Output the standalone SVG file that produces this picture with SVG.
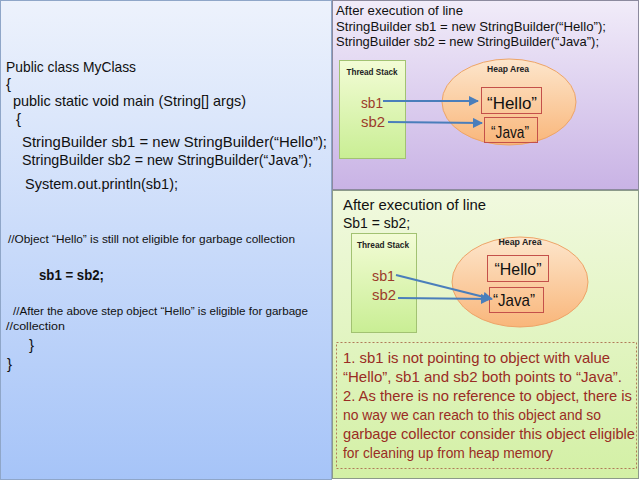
<svg xmlns="http://www.w3.org/2000/svg" width="640" height="480" viewBox="0 0 640 480">
<defs>
<linearGradient id="gBlue" x1="0" y1="0" x2="0" y2="1"><stop offset="0" stop-color="#edf2fc"/><stop offset="1" stop-color="#a6c4f8"/></linearGradient>
<linearGradient id="gPurple" x1="0" y1="0" x2="0" y2="1"><stop offset="0" stop-color="#f1ecf9"/><stop offset="1" stop-color="#c9b3e5"/></linearGradient>
<linearGradient id="gGreen" x1="0" y1="0" x2="0" y2="1"><stop offset="0" stop-color="#f1f9df"/><stop offset="1" stop-color="#d3f0a5"/></linearGradient>
<linearGradient id="gStack" x1="0" y1="0" x2="0" y2="1"><stop offset="0" stop-color="#f3fcd6"/><stop offset="1" stop-color="#c9ee94"/></linearGradient>
<linearGradient id="gHeap" x1="0" y1="0" x2="0" y2="1"><stop offset="0" stop-color="#fde6cc"/><stop offset="1" stop-color="#f9b67a"/></linearGradient>
<marker id="arr" viewBox="0 0 10 10" refX="9" refY="5" markerWidth="5" markerHeight="5" orient="auto" markerUnits="strokeWidth">
<path d="M0,0 L10,5 L0,10 z" fill="#4a7ebb"/>
</marker>
</defs>
<style>
text{font-family:"Liberation Sans",Arial,sans-serif;}
.code{font-size:15px;fill:#111;}
.cmt{font-size:11px;fill:#111;}
.hdr{font-size:13.5px;fill:#111;}
.hdr2{font-size:15px;fill:#111;}
.lbl{font-size:8.5px;font-weight:bold;fill:#222;text-anchor:middle;}
.var{font-size:15px;fill:#9c3b2a;}
.obj{font-size:17px;fill:#111;text-anchor:middle;}
.note{font-size:15px;fill:#9a2c24;}
.stack{fill:url(#gStack);stroke:#a2c272;stroke-width:1;}
.heap{fill:url(#gHeap);stroke:#eda468;stroke-width:1;}
.box{fill:none;stroke:#c4504a;stroke-width:1;}
.ar{stroke:#4a7ebb;stroke-width:2;fill:none;marker-end:url(#arr);}
</style>

<g id="code-panel">
<rect x="0.5" y="0.5" width="331" height="479" fill="url(#gBlue)" stroke="#8fa6c8"/>
<text class="code" x="6" y="72" textLength="130" lengthAdjust="spacingAndGlyphs">Public class MyClass</text>
<text class="code" x="6" y="89">{</text>
<text class="code" x="13" y="106" textLength="233" lengthAdjust="spacingAndGlyphs">public static void main (String[] args)</text>
<text class="code" x="16" y="124">{</text>
<text class="code" x="22" y="147" textLength="305" lengthAdjust="spacingAndGlyphs">StringBuilder sb1 = new StringBuilder(“Hello”);</text>
<text class="code" x="22" y="165" textLength="290" lengthAdjust="spacingAndGlyphs">StringBuilder sb2 = new StringBuilder(“Java”);</text>
<text class="code" x="25" y="189" textLength="153" lengthAdjust="spacingAndGlyphs">System.out.println(sb1);</text>
<text class="cmt" x="8" y="243" textLength="287" lengthAdjust="spacingAndGlyphs">//Object “Hello” is still not eligible for garbage collection</text>
<text class="code" x="39" y="280" font-weight="bold" font-size="15.5" textLength="65" lengthAdjust="spacingAndGlyphs">sb1 = sb2;</text>
<text class="cmt" x="13" y="315" textLength="295" lengthAdjust="spacingAndGlyphs">//After the above step object “Hello” is eligible for garbage</text>
<text class="cmt" x="6" y="330" textLength="59" lengthAdjust="spacingAndGlyphs">//collection</text>
<text class="code" x="29" y="350">}</text>
<text class="code" x="7" y="369">}</text>
</g>

<g id="panel-before">
<rect x="332.5" y="0.5" width="306" height="189" fill="url(#gPurple)" stroke="#8c8a9e"/>
<text class="hdr" x="336" y="15" textLength="127" lengthAdjust="spacingAndGlyphs">After execution of line</text>
<text class="hdr" x="336" y="31" textLength="270" lengthAdjust="spacingAndGlyphs">StringBuilder sb1 = new StringBuilder(“Hello”);</text>
<text class="hdr" x="336" y="46" textLength="263" lengthAdjust="spacingAndGlyphs">StringBuilder sb2 = new StringBuilder(“Java”);</text>
</g>
<g id="stack-before">
<rect class="stack" x="339.5" y="60.5" width="66" height="98"/>
<text class="lbl" x="372" y="75" textLength="51" lengthAdjust="spacingAndGlyphs">Thread Stack</text>
<text class="var" x="361" y="108" textLength="22" lengthAdjust="spacingAndGlyphs">sb1</text>
<text class="var" x="361" y="127" textLength="24" lengthAdjust="spacingAndGlyphs">sb2</text>
</g>
<g id="heap-before">
<ellipse class="heap" cx="509" cy="102" rx="67" ry="43"/>
<text class="lbl" x="508" y="72" textLength="42" lengthAdjust="spacingAndGlyphs">Heap Area</text>
</g>
<g id="hello-before">
<rect class="box" x="481.5" y="87.5" width="60" height="26"/>
<text class="obj" x="512" y="109" textLength="50" lengthAdjust="spacingAndGlyphs">“Hello”</text>
</g>
<g id="java-before">
<rect class="box" x="484.5" y="117.5" width="53" height="25"/>
<text class="obj" x="510" y="138" textLength="38" lengthAdjust="spacingAndGlyphs">“Java”</text>
</g>

<g id="panel-after">
<rect x="332.5" y="190.5" width="306" height="288" fill="url(#gGreen)" stroke="#8c9a8a"/>
<text class="hdr2" x="343" y="210" textLength="143" lengthAdjust="spacingAndGlyphs">After execution of line</text>
<text class="hdr2" x="343" y="228" textLength="67" lengthAdjust="spacingAndGlyphs">Sb1 = sb2;</text>
</g>
<g id="stack-after">
<rect class="stack" x="351.5" y="233.5" width="65" height="99"/>
<text class="lbl" x="383" y="248" textLength="52" lengthAdjust="spacingAndGlyphs">Thread Stack</text>
<text class="var" x="372" y="281" textLength="23" lengthAdjust="spacingAndGlyphs">sb1</text>
<text class="var" x="372" y="300" textLength="24" lengthAdjust="spacingAndGlyphs">sb2</text>
</g>
<g id="heap-after">
<ellipse class="heap" cx="520" cy="282" rx="68" ry="45"/>
<text class="lbl" x="520" y="245" textLength="43" lengthAdjust="spacingAndGlyphs">Heap Area</text>
</g>
<g id="hello-after">
<rect class="box" x="487.5" y="255.5" width="61" height="26"/>
<text class="obj" x="518" y="275" textLength="47" lengthAdjust="spacingAndGlyphs">“Hello”</text>
</g>
<g id="java-after">
<rect class="box" x="489.5" y="287.5" width="54" height="25"/>
<text class="obj" x="514" y="306" textLength="42" lengthAdjust="spacingAndGlyphs">“Java”</text>
</g>

<g id="note">
<rect x="336.5" y="342.5" width="300" height="126" fill="none" stroke="#b07a58" stroke-width="1" stroke-dasharray="2,2"/>
<text class="note" x="343" y="363" textLength="267" lengthAdjust="spacingAndGlyphs">1. sb1 is not pointing to object with value</text>
<text class="note" x="343" y="382" textLength="279" lengthAdjust="spacingAndGlyphs">“Hello”, sb1 and sb2 both points to “Java”.</text>
<text class="note" x="343" y="401" textLength="289" lengthAdjust="spacingAndGlyphs">2. As there is no reference to object, there is</text>
<text class="note" x="343" y="420" textLength="258" lengthAdjust="spacingAndGlyphs">no way we can reach to this object and so</text>
<text class="note" x="343" y="439" textLength="292" lengthAdjust="spacingAndGlyphs">garbage collector consider this object eligible</text>
<text class="note" x="343" y="458" textLength="210" lengthAdjust="spacingAndGlyphs">for cleaning up from heap memory</text>
</g>

<g id="connectors">
<line class="ar" x1="383" y1="101" x2="478" y2="101"/>
<line class="ar" x1="388" y1="122" x2="482" y2="123"/>
<line class="ar" x1="396" y1="275" x2="492" y2="299"/>
<line class="ar" x1="398" y1="298" x2="490" y2="299"/>
</g>
</svg>
